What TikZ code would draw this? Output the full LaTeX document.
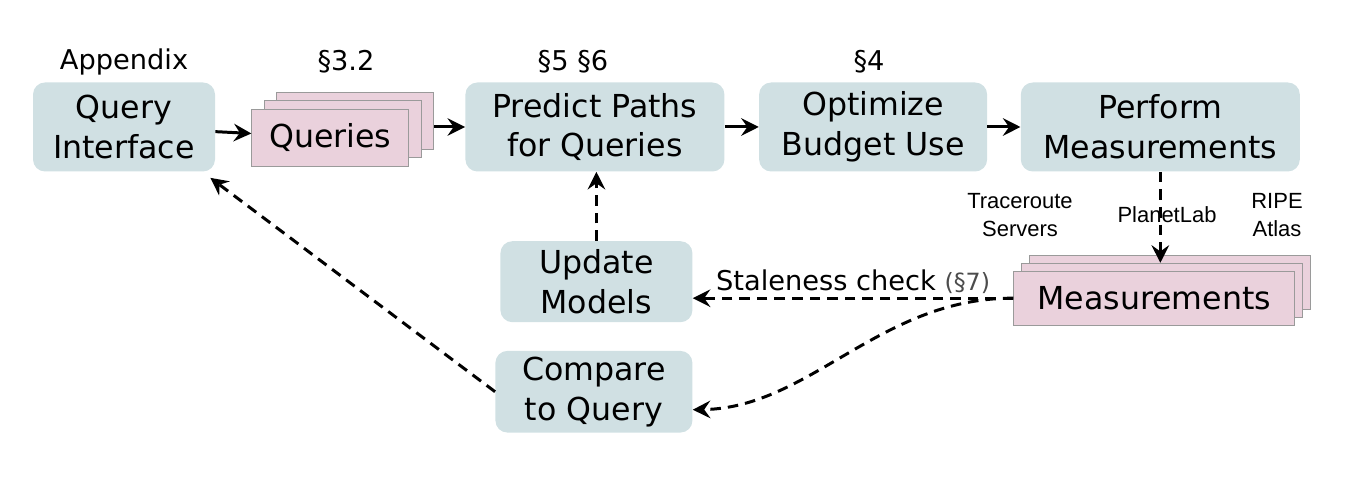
\documentclass[tikz,border=0pt]{standalone}
\usepackage{fontspec}
\setmainfont{DejaVu Sans}
\newfontfamily\arialfont{Liberation Sans}
\usetikzlibrary{positioning,shadows,arrows.meta}
\definecolor{boxblue}{HTML}{D0E0E3}
\definecolor{stackpink}{HTML}{EAD1DC}
\definecolor{stackline}{HTML}{9A9A9A}

\begin{document}
\begin{tikzpicture}[node distance=0.68cm]
\tikzstyle{stage} = [rectangle, rounded corners=0.24cm, minimum height=1.78cm, text centered, align=center, fill=boxblue, font=\fontsize{18}{22.7}\selectfont]

\tikzstyle{stack} = [rectangle, text centered, draw=stackline, fill=stackpink, font=\fontsize{18}{22.7}\selectfont]

\tikzstyle{sec} = [font=\fontsize{15.5}{19}\selectfont]
\tikzstyle{platform} = [align=center, font=\arialfont\fontsize{12.5}{15.5}\selectfont]
\tikzstyle{arrow} = [line width=1.7pt, -{Stealth[length=10pt,width=10pt,inset=3.5pt]}]
\tikzstyle{dasharrow} = [arrow, dash pattern=on 6pt off 4pt]

\useasboundingbox (0,0) rectangle (26.94,9.74);

\node (qi) [stage, minimum width=3.64cm] at (2.48,7.2) {Query\\Interface};
\node (qry) [stack, minimum width=3.14cm, minimum height=1.14cm, right=0.72cm of qi, yshift=-0.21cm,
  double copy shadow={shadow xshift=0.25cm, shadow yshift=0.17cm}] {Queries};
\node (prd) [stage, minimum width=5.18cm, right=1.12cm of qry, yshift=0.21cm] {Predict Paths\\for Queries};
\node (opt) [stage, minimum width=4.56cm, right=0.68cm of prd] {Optimize\\Budget Use};
\node (prf) [stage, minimum width=5.58cm, right=0.66cm of opt] {Perform\\Measurements};

\node (upd) [stage, minimum width=3.84cm, minimum height=1.62cm, below=1.38cm of prd, xshift=0.03cm] {Update\\Models};
\node (cmp) [stage, minimum width=3.94cm, minimum height=1.6cm, below=0.56cm of upd, xshift=-0.05cm] {Compare\\to Query};

\node (msr) [stack, minimum width=5.62cm, minimum height=1.08cm, below=1.98cm of prf, xshift=-0.12cm,
  double copy shadow={shadow xshift=0.16cm, shadow yshift=0.16cm}] {Measurements};
\coordinate (msrtop) at ([yshift=0.16cm]msr.north);

% section labels
\node (secqi) [sec] at (2.48,8.5) {Appendix};
\node (secqry) [sec] at (6.92,8.5) {§3.2};
\node (secprd) [sec] at (11.46,8.5) {§5 §6};
\node (secopt) [sec] at (17.38,8.5) {§4};

% measurement platforms
\node (trs) [platform] at (20.4,5.44) {Traceroute\\Servers};
\node (plb) [platform] at (23.34,5.44) {PlanetLab};
\node (rip) [platform] at (25.54,5.44) {RIPE\\Atlas};

\draw [arrow] (qi) -- (qry);
\draw [arrow] ([xshift=0.5cm]qry.east |- prd) -- (prd);
\draw [arrow] (prd) -- (opt);
\draw [arrow] (opt) -- (prf);
\draw [dasharrow] (prf.south) -- (prf.south |- msrtop);
\draw [dasharrow] (msr.west) -- (msr.west -| upd.east)
  node [midway, above, inner sep=2pt, font=\fontsize{15.5}{19}\selectfont] {Staleness check {\color{black!70}\fontsize{13.5}{16}\selectfont(§7)}};
\draw [dasharrow] (upd) -- (upd |- prd.south);
\draw [dasharrow] (msr.west) .. controls (17.6,3.79) and (16.2,1.58) .. ([yshift=-0.36cm]cmp.east);
\draw [dasharrow] (cmp.west) -- ([shift={(-0.1,-0.12)}]qi.south east);

\end{tikzpicture}
\end{document}
